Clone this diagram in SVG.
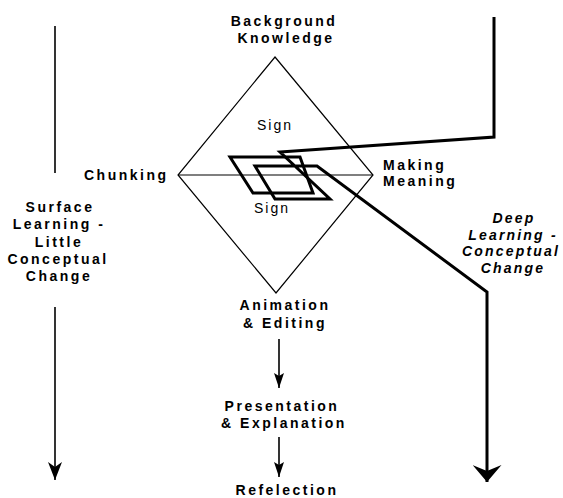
<svg xmlns="http://www.w3.org/2000/svg" width="563" height="498" viewBox="0 0 563 498">
<style>
.lbl{font-family:"Liberation Sans",Arial,sans-serif;font-size:14px;font-weight:bold;letter-spacing:2.5px;fill:#000}
.it{font-style:italic;letter-spacing:2.2px}
.sign{font-family:"Liberation Sans",Arial,sans-serif;font-size:14px;letter-spacing:2px;fill:#000}
.thin{fill:none;stroke:#000;stroke-width:1.2}
.thick{fill:none;stroke:#000;stroke-width:3;stroke-linejoin:miter}
.mid{fill:none;stroke:#000;stroke-width:1.6}
</style>
<defs>
<marker id="arrS" markerUnits="userSpaceOnUse" markerWidth="15" markerHeight="10" refX="15" refY="5" orient="auto" viewBox="0 0 15 10"><path d="M0,0 L15,5 L0,10 L3,5 Z" fill="#000"/></marker>
<marker id="arrL" markerUnits="userSpaceOnUse" markerWidth="18" markerHeight="14" refX="18" refY="7" orient="auto" viewBox="0 0 18 14"><path d="M0,0 L18,7 L0,14 L5,7 Z" fill="#000"/></marker>
<marker id="arrT" markerUnits="userSpaceOnUse" markerWidth="17" markerHeight="29" refX="17" refY="14.5" orient="auto" viewBox="0 0 17 29"><path d="M0,0 L17,14.5 L0,29 L6,14.5 Z" fill="#000"/></marker>
</defs>
<rect width="563" height="498" fill="#fff"/>
<g id="diamond">
<polygon class="thin" points="275,57 373,175 276,293 178,175"/>
<line class="thin" x1="178" y1="175" x2="373" y2="175"/>
</g>
<g id="sign-frame">
<polygon class="thick" points="230,157 300,157 313,193 253,193"/>
</g>
<g id="connectors">
<line class="mid" x1="55" y1="26" x2="55" y2="173"/>
<line class="mid" x1="55" y1="307" x2="55" y2="480" marker-end="url(#arrL)"/>
<line class="mid" x1="279" y1="339" x2="279" y2="388" marker-end="url(#arrS)"/>
<line class="mid" x1="279" y1="437" x2="279" y2="477" marker-end="url(#arrS)"/>
<polyline class="thick" points="494,17 494,137 280,152 330,199 275,199 255,166 317,166 487,292 487,482" marker-end="url(#arrT)"/>
</g>
<g id="background">
<text class="lbl" x="284" y="26" text-anchor="middle">Background</text>
<text class="lbl" x="286" y="43" text-anchor="middle">Knowledge</text>
</g>
<g id="sign-top"><text class="sign" x="275" y="130" text-anchor="middle">Sign</text></g>
<g id="sign-bottom"><text class="sign" x="272" y="213" text-anchor="middle">Sign</text></g>
<g id="chunking"><text class="lbl" x="84" y="180">Chunking</text></g>
<g id="making-meaning">
<text class="lbl" x="383" y="170">Making</text>
<text class="lbl" x="383" y="186">Meaning</text>
</g>
<g id="surface">
<text class="lbl" x="60" y="212" text-anchor="middle">Surface</text>
<text class="lbl" x="59" y="229" text-anchor="middle">Learning -</text>
<text class="lbl" x="59" y="247" text-anchor="middle">Little</text>
<text class="lbl" x="58" y="264" text-anchor="middle">Conceptual</text>
<text class="lbl" x="59" y="281" text-anchor="middle">Change</text>
</g>
<g id="deep">
<text class="lbl it" x="514" y="223" text-anchor="middle">Deep</text>
<text class="lbl it" x="513" y="240" text-anchor="middle">Learning -</text>
<text class="lbl it" x="511" y="256" text-anchor="middle">Conceptual</text>
<text class="lbl it" x="513" y="273" text-anchor="middle">Change</text>
</g>
<g id="animation">
<text class="lbl" x="285" y="310" text-anchor="middle">Animation</text>
<text class="lbl" x="285" y="328" text-anchor="middle">&amp; Editing</text>
</g>
<g id="presentation">
<text class="lbl" x="282" y="411" text-anchor="middle">Presentation</text>
<text class="lbl" x="284" y="428" text-anchor="middle">&amp; Explanation</text>
</g>
<g id="reflection"><text class="lbl" x="287" y="495" text-anchor="middle">Refelection</text></g>
</svg>
